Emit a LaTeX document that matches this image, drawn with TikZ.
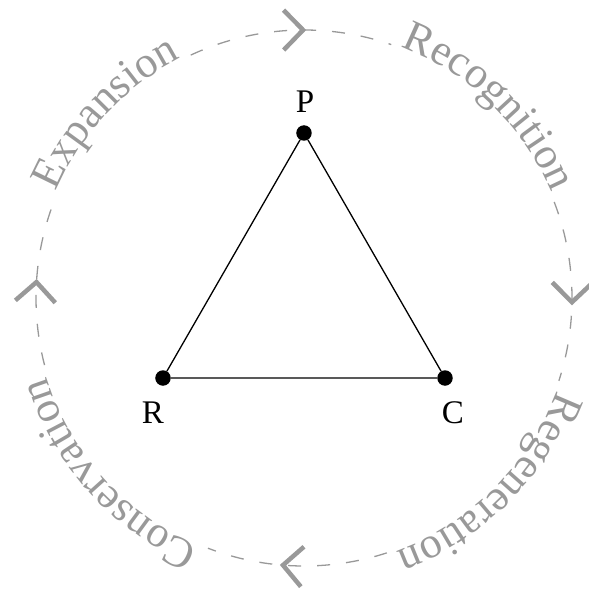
\documentclass[tikz,border=0pt]{standalone}
\usepackage{fontspec}
\setmainfont{Liberation Serif}
\usetikzlibrary{decorations.text,calc}
\definecolor{cg}{gray}{0.6}
\newcommand\ringfont{\fontsize{44}{44}\selectfont}
\begin{document}
\begin{tikzpicture}[
  dot/.style={circle,fill=black,inner sep=0pt,minimum size=15.5pt},
  lbl/.style={font=\fontsize{33}{33}\selectfont,inner sep=0pt},
  edge/.style={line width=1.3pt,black},
  ring/.style={cg,line width=1.3pt,dash pattern=on 13pt off 16pt},
  chev/.style={cg,line width=4.5pt,miter limit=10},
  ringtext/.style={decorate,decoration={text along path,text align=center,raise=1.5pt,text={|\color{cg}\ringfont|#1}}},
  ]
\useasboundingbox (-304pt,-294pt) rectangle (285pt,298pt);
% triangle
\node[dot] (P) at (0pt,165pt) {};
\node[dot] (R) at (-141pt,-80pt) {};
\node[dot] (C) at (141pt,-80pt) {};
\node[lbl] (Pl) at (1pt,196pt) {P};
\node[lbl] (Rl) at (-151pt,-115pt) {R};
\node[lbl] (Cl) at (149pt,-115pt) {C};
\draw[edge] (P) -- (C) -- (R) -- (P);
% dashed ring segments
\draw[ring] (115:268pt) arc[start angle=115,end angle=71,radius=268pt];
\draw[ring] (21:268pt) arc[start angle=21,end angle=-18,radius=268pt];
\draw[ring] (-72:268pt) arc[start angle=-72,end angle=-111,radius=268pt];
\draw[ring] (194.5:268pt) arc[start angle=194.5,end angle=159,radius=268pt];
% chevrons
\draw[chev,rotate=90.2] (288pt,19.5pt) -- (268pt,0pt) -- (248pt,19.5pt);
\draw[chev,rotate=-0.9] (288pt,19.5pt) -- (268pt,0pt) -- (248pt,19.5pt);
\draw[chev,rotate=265.5] (288pt,19.5pt) -- (268pt,0pt) -- (248pt,19.5pt);
\draw[chev,rotate=176.6] (288pt,19.5pt) -- (268pt,0pt) -- (248pt,19.5pt);
% ring texts
\path[ringtext=Recognition] (86:268pt) arc[start angle=86,end angle=6,radius=268pt];
\path[ringtext=Expansion] (177:268pt) arc[start angle=177,end angle=97,radius=268pt];
\path[ringtext=Regeneration] (-5:268pt) arc[start angle=-5,end angle=-85,radius=268pt];
\path[ringtext=Conservation] (262:268pt) arc[start angle=262,end angle=182,radius=268pt];
\end{tikzpicture}
\end{document}
